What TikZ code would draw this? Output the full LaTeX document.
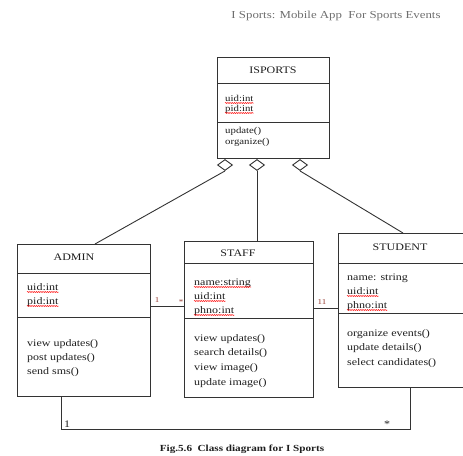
\documentclass[tikz,border=0pt]{standalone}
\usepackage{fontspec}
\setmainfont[FakeStretch=1.2]{Liberation Serif}
\usetikzlibrary{shapes.geometric,decorations.pathmorphing,calc}
\definecolor{ttlc}{RGB}{110,110,110}
\definecolor{multc}{RGB}{150,60,50}
\definecolor{inkc}{RGB}{30,30,30}
\tikzset{
 ln/.style={draw=black!80, line width=0.9pt},
 cls/.style={ln, rectangle, anchor=north west, inner sep=0pt},
 txt/.style={anchor=base west, inner sep=0pt, font=\fontsize{10}{12}\selectfont, text=inkc},
 stxt/.style={txt, font=\fontsize{9}{11}\selectfont},
 ctxt/.style={anchor=base, inner sep=0pt, font=\fontsize{10}{12}\selectfont, text=inkc},
 mult/.style={anchor=base, inner sep=0pt, font=\fontsize{7.5}{9}\selectfont, text=multc},
 bmult/.style={anchor=base, inner sep=0pt, font=\fontsize{10}{12}\selectfont, text=inkc},
 agg/.style={ln, diamond, fill=white, aspect=1.4, minimum width=15pt, minimum height=11pt, inner sep=0pt},
 squig/.style={draw=red, line width=0.5pt, decorate, decoration={snake, amplitude=0.5pt, segment length=2.2pt}}
}
\newcommand{\wavy}[1]{\draw[squig] ($(#1.base west)+(0,-2pt)$) -- ($(#1.base east)+(0,-2pt)$);}
\begin{document}
\begin{tikzpicture}[x=1pt,y=1pt]
\useasboundingbox (0,0) rectangle (463,-455);
\clip (0,0) rectangle (463,-455);

% title
\node[anchor=base, inner sep=0pt, font=\fontsize{10.7}{12}\selectfont, text=ttlc] (title) at (336,-19) {I Sports: Mobile App\ \ For Sports Events};

% ISPORTS
\node[cls, minimum width=112pt, minimum height=101pt] (isp) at (217,-57) {};
\draw[ln] (isp.west |- 0,-83) -- (isp.east |- 0,-83);
\draw[ln] (isp.west |- 0,-122) -- (isp.east |- 0,-122);
\node[ctxt] (ispn) at (273,-73) {ISPORTS};
\node[stxt] (ispa1) at (225,-101) {uid:int};
\node[stxt] (ispa2) at (225,-111) {pid:int};
\node[stxt] (ispm1) at (225,-133) {update()};
\node[stxt] (ispm2) at (225,-144) {organize()};
\wavy{ispa1}\wavy{ispa2}

% ADMIN
\node[cls, minimum width=133pt, minimum height=152pt] (admin) at (17,-244) {};
\draw[ln] (admin.west |- 0,-273) -- (admin.east |- 0,-273);
\draw[ln] (admin.west |- 0,-317) -- (admin.east |- 0,-317);
\node[ctxt] (admn) at (74,-260) {ADMIN};
\node[txt] (adma1) at (27,-290) {uid:int};
\node[txt] (adma2) at (27,-304) {pid:int};
\node[txt] (admm1) at (27,-346) {view updates()};
\node[txt] (admm2) at (27,-360) {post updates()};
\node[txt] (admm3) at (27,-374) {send sms()};
\wavy{adma1}\wavy{adma2}

% STAFF
\node[cls, minimum width=129pt, minimum height=156pt] (staff) at (184,-241) {};
\draw[ln] (staff.west |- 0,-263) -- (staff.east |- 0,-263);
\draw[ln] (staff.west |- 0,-318) -- (staff.east |- 0,-318);
\node[ctxt] (stfn) at (238,-256) {STAFF};
\node[txt] (stfa1) at (194,-285) {name:string};
\node[txt] (stfa2) at (194,-299) {uid:int};
\node[txt] (stfa3) at (194,-313) {phno:int};
\node[txt] (stfm1) at (194,-341) {view updates()};
\node[txt] (stfm2) at (194,-355) {search details()};
\node[txt] (stfm3) at (194,-370) {view image()};
\node[txt] (stfm4) at (194,-385) {update image()};
\wavy{stfa1}\wavy{stfa2}\wavy{stfa3}

% STUDENT
\node[cls, minimum width=135pt, minimum height=154pt] (student) at (338,-233) {};
\draw[ln] (student.west |- 0,-263) -- (student.east |- 0,-263);
\draw[ln] (student.west |- 0,-313) -- (student.east |- 0,-313);
\node[ctxt] (stun) at (400,-250) {STUDENT};
\node[txt] (stua1) at (347,-280) {name: string};
\node[txt] (stua2) at (347,-294) {uid:int};
\node[txt] (stua3) at (347,-308) {phno:int};
\node[txt] (stum1) at (347,-336) {organize events()};
\node[txt] (stum2) at (347,-350) {update details()};
\node[txt] (stum3) at (347,-365) {select candidates()};
\wavy{stua2}\wavy{stua3}

% aggregation diamonds
\node[agg] (d1) at (225,-165) {};
\node[agg] (d2) at (257,-165) {};
\node[agg] (d3) at (300,-165) {};
\draw[ln] (d1.south) -- ([xshift=78pt]admin.north west);
\draw[ln] (d2.south) -- (d2.south |- staff.north);
\draw[ln] (d3.south) -- ([xshift=65pt]student.north west);

% associations
\draw[ln] (admin.east |- 0,-306) -- (staff.west |- 0,-306);
\node[mult] (m1) at (157,-302) {1};
\node[mult] (m2) at (181,-304) {*};
\draw[ln] (staff.east |- 0,-308) -- (student.west |- 0,-308);
\node[mult] (m3) at (322,-304) {11};
\draw[ln] ([xshift=44pt]admin.south west) -- ++(0,-33) -| ([xshift=72pt]student.south west);
\node[bmult] (m4) at (67,-427.5) {1};
\node[bmult] (m5) at (387,-427.5) {*};

% caption
\node[anchor=base, inner sep=0pt, font=\bfseries\fontsize{9.3}{11}\selectfont, text=inkc] (cap) at (242,-451) {Fig.5.6\ \ Class diagram for I Sports};
\end{tikzpicture}
\end{document}
